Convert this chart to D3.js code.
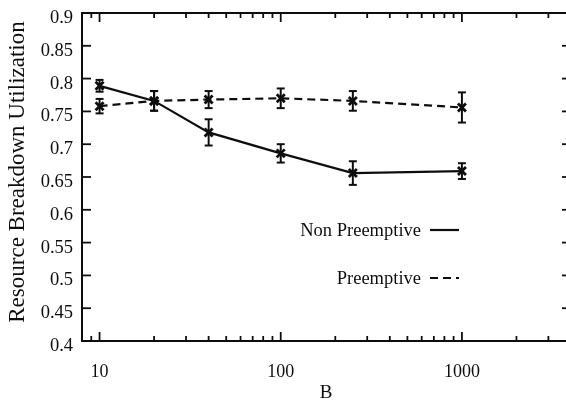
<!DOCTYPE html>
<html>
<head>
<meta charset="utf-8">
<script src="https://cdn.jsdelivr.net/npm/d3@7"></script>
<style>
  html, body { margin: 0; padding: 0; background: #fff; }
  svg { display: block; }
</style>
</head>
<body>
<div id="chart"></div>
<script>
  var bValues = [10, 20, 40, 100, 250, 1000];
  var nonPreemptive = [0.789, 0.766, 0.718, 0.686, 0.656, 0.659];
  var nonPreemptiveErr = [0.009, 0.015, 0.020, 0.014, 0.018, 0.012];
  var preemptive = [0.758, 0.766, 0.768, 0.770, 0.766, 0.756];
  var preemptiveErr = [0.011, 0.015, 0.013, 0.015, 0.015, 0.023];
  var yTicks = [0.4, 0.45, 0.5, 0.55, 0.6, 0.65, 0.7, 0.75, 0.8, 0.85, 0.9];
  var xMajor = [10, 100, 1000];
  var xMinor = [9, 20, 30, 40, 50, 60, 70, 80, 90, 200, 300, 400, 500, 600, 700, 800, 900, 2000, 3000];

  var width = 566, height = 403;
  var margin = { top: 13, right: -5, bottom: 62, left: 82 };
  var serif = '"Liberation Serif", "Times New Roman", serif';

  var x = d3.scaleLog().domain([8, 4000]).range([margin.left, width - margin.right]);
  var y = d3.scaleLinear().domain([0.4, 0.9]).range([height - margin.bottom, margin.top]);

  var svg = d3.select('#chart').append('svg').attr('width', width).attr('height', height);
  svg.append('rect').attr('width', width).attr('height', height).attr('fill', '#fff');

  // the scan is a little soft
  svg.append('defs').append('filter').attr('id', 'soft')
    .append('feGaussianBlur').attr('stdDeviation', 0.45);
  var root = svg.append('g').attr('filter', 'url(#soft)');

  function label(sel) {
    return sel.style('font-family', serif).attr('fill', '#111');
  }

  var x0 = x.range()[0], x1 = x.range()[1], y0 = y.range()[0], y1 = y.range()[1];

  // frame
  root.append('rect')
    .attr('x', x0).attr('y', y1).attr('width', x1 - x0).attr('height', y0 - y1)
    .attr('fill', 'none').attr('stroke', '#111').attr('stroke-width', 2);

  var ticks = root.append('g').attr('stroke', '#111').attr('stroke-width', 1.8);

  // y ticks, left and right, pointing in
  yTicks.forEach(function (v) {
    ticks.append('line').attr('x1', x0).attr('x2', x0 + 9).attr('y1', y(v)).attr('y2', y(v));
    ticks.append('line').attr('x1', x1).attr('x2', x1 - 9).attr('y1', y(v)).attr('y2', y(v));
  });

  // x ticks, bottom and top
  xMajor.forEach(function (v) {
    ticks.append('line').attr('x1', x(v)).attr('x2', x(v)).attr('y1', y0).attr('y2', y0 - 9);
    ticks.append('line').attr('x1', x(v)).attr('x2', x(v)).attr('y1', y1).attr('y2', y1 + 9);
  });
  xMinor.forEach(function (v) {
    ticks.append('line').attr('x1', x(v)).attr('x2', x(v)).attr('y1', y0).attr('y2', y0 - 5);
    ticks.append('line').attr('x1', x(v)).attr('x2', x(v)).attr('y1', y1).attr('y2', y1 + 5);
  });

  // tick labels
  label(root.append('g').selectAll('text').data(yTicks).enter().append('text'))
    .attr('x', x0 - 9).attr('y', function (d) { return y(d) + 10; })
    .attr('text-anchor', 'end').attr('font-size', 18.5)
    .text(function (d) { return String(+d.toFixed(2)); });

  label(root.append('g').selectAll('text').data(xMajor).enter().append('text'))
    .attr('x', function (d) { return x(d); }).attr('y', 377)
    .attr('text-anchor', 'middle').attr('font-size', 18)
    .text(function (d) { return d; });

  // axis titles
  label(root.append('text')).attr('x', 326).attr('y', 398).attr('text-anchor', 'middle')
    .attr('font-size', 19).text('B');
  label(root.append('text'))
    .attr('transform', 'translate(24,172) rotate(-90)')
    .attr('text-anchor', 'middle').attr('font-size', 23)
    .text('Resource Breakdown Utilization');

  // series
  function drawSeries(vals, errs, dash) {
    var pts = bValues.map(function (b, i) { return { b: b, v: vals[i], e: errs[i] }; });
    var line = d3.line().x(function (d) { return x(d.b); }).y(function (d) { return y(d.v); });
    root.append('path').datum(pts)
      .attr('d', line).attr('fill', 'none').attr('stroke', '#111').attr('stroke-width', 2.2)
      .attr('stroke-dasharray', dash ? '8,5' : null);

    var g = root.append('g').attr('stroke', '#111').attr('stroke-width', 2);
    pts.forEach(function (d) {
      var cx = x(d.b), cy = y(d.v), top = y(d.v + d.e), bot = y(d.v - d.e);
      g.append('line').attr('x1', cx).attr('x2', cx).attr('y1', top).attr('y2', bot);
      g.append('line').attr('x1', cx - 4).attr('x2', cx + 4).attr('y1', top).attr('y2', top);
      g.append('line').attr('x1', cx - 4).attr('x2', cx + 4).attr('y1', bot).attr('y2', bot);
      g.append('line').attr('x1', cx - 4).attr('x2', cx + 4).attr('y1', cy - 4).attr('y2', cy + 4).attr('stroke-width', 2.8);
      g.append('line').attr('x1', cx - 4).attr('x2', cx + 4).attr('y1', cy + 4).attr('y2', cy - 4).attr('stroke-width', 2.8);
    });
  }
  drawSeries(nonPreemptive, nonPreemptiveErr, false);
  drawSeries(preemptive, preemptiveErr, true);

  // legend
  var legend = [
    { name: 'Non Preemptive', dash: null, y: 230 },
    { name: 'Preemptive', dash: '8,5', y: 278 }
  ];
  legend.forEach(function (l) {
    label(root.append('text')).attr('x', 421).attr('y', l.y + 6)
      .attr('text-anchor', 'end').attr('font-size', 18.5).text(l.name);
    root.append('line').attr('x1', 430).attr('x2', 459).attr('y1', l.y).attr('y2', l.y)
      .attr('stroke', '#111').attr('stroke-width', 2.2).attr('stroke-dasharray', l.dash);
  });
</script>
</body>
</html>
